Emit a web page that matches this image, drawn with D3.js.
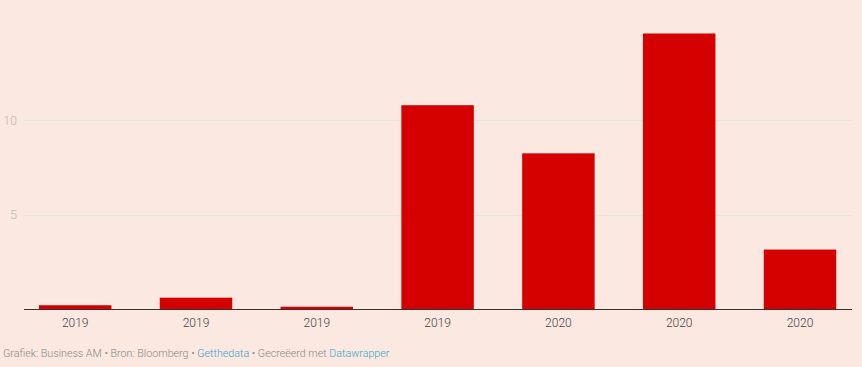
<!DOCTYPE html>
<html><head><meta charset="utf-8">
<script src="https://cdn.jsdelivr.net/npm/d3@7"></script>
<style>
html,body{margin:0;padding:0;background:#fae8e1;}
svg{display:block;font-family:Roboto,"Noto Sans",sans-serif;}
</style></head><body>
<svg id="c" width="862" height="367"></svg>
<script>
const categories = ["2019","2019","2019","2019","2020","2020","2020"];
const values = [0.2, 0.6, 0.12, 10.8, 8.25, 14.6, 3.15];
const yTicks = [5, 10];

const svg = d3.select("#c");
const x = d3.scaleBand().domain(d3.range(categories.length))
  .range([14.8, 860.4]).paddingInner(0.4).paddingOuter(0.2);
const y = d3.scaleLinear().domain([0, 10]).range([309, 120.3]);

// gridlines
svg.append("g").selectAll("line").data(yTicks).join("line")
  .attr("x1", 24).attr("x2", 852)
  .attr("y1", d => Math.round(y(d)) + 0.5).attr("y2", d => Math.round(y(d)) + 0.5)
  .attr("stroke", "#e9e4e2").attr("stroke-width", 1);
svg.append("g").selectAll("text").data(yTicks).join("text")
  .attr("x", 17).attr("y", d => y(d) + 4.5)
  .attr("text-anchor", "end").attr("font-size", 12.5).attr("font-weight", 300)
  .attr("fill", "#bdb8b6").text(d => d);

// bars
svg.append("g").selectAll("rect").data(values).join("rect")
  .attr("x", (d, i) => x(i)).attr("width", x.bandwidth())
  .attr("y", d => y(d)).attr("height", d => y(0) - y(d))
  .attr("fill", "#d50000");

// baseline
svg.append("line").attr("x1", 24).attr("x2", 852)
  .attr("y1", 309.5).attr("y2", 309.5).attr("stroke", "#333").attr("stroke-width", 1);

// x labels
svg.append("g").selectAll("text").data(categories).join("text")
  .attr("x", (d, i) => x(i) + x.bandwidth() / 2).attr("y", 327)
  .attr("text-anchor", "middle").attr("font-size", 12).attr("font-weight", 300)
  .attr("fill", "#444").text(d => d);

// footer
const f = svg.append("text").attr("x", 3).attr("y", 357).attr("font-size", 10.7)
  .attr("font-weight", 300).attr("fill", "#888");
f.append("tspan").text("Grafiek: Business AM • Bron: Bloomberg • ");
f.append("tspan").attr("fill", "#3aa3c9").text("Getthedata");
f.append("tspan").text(" • Gecreëerd met ");
f.append("tspan").attr("fill", "#3aa3c9").text("Datawrapper");
</script>
</body></html>
